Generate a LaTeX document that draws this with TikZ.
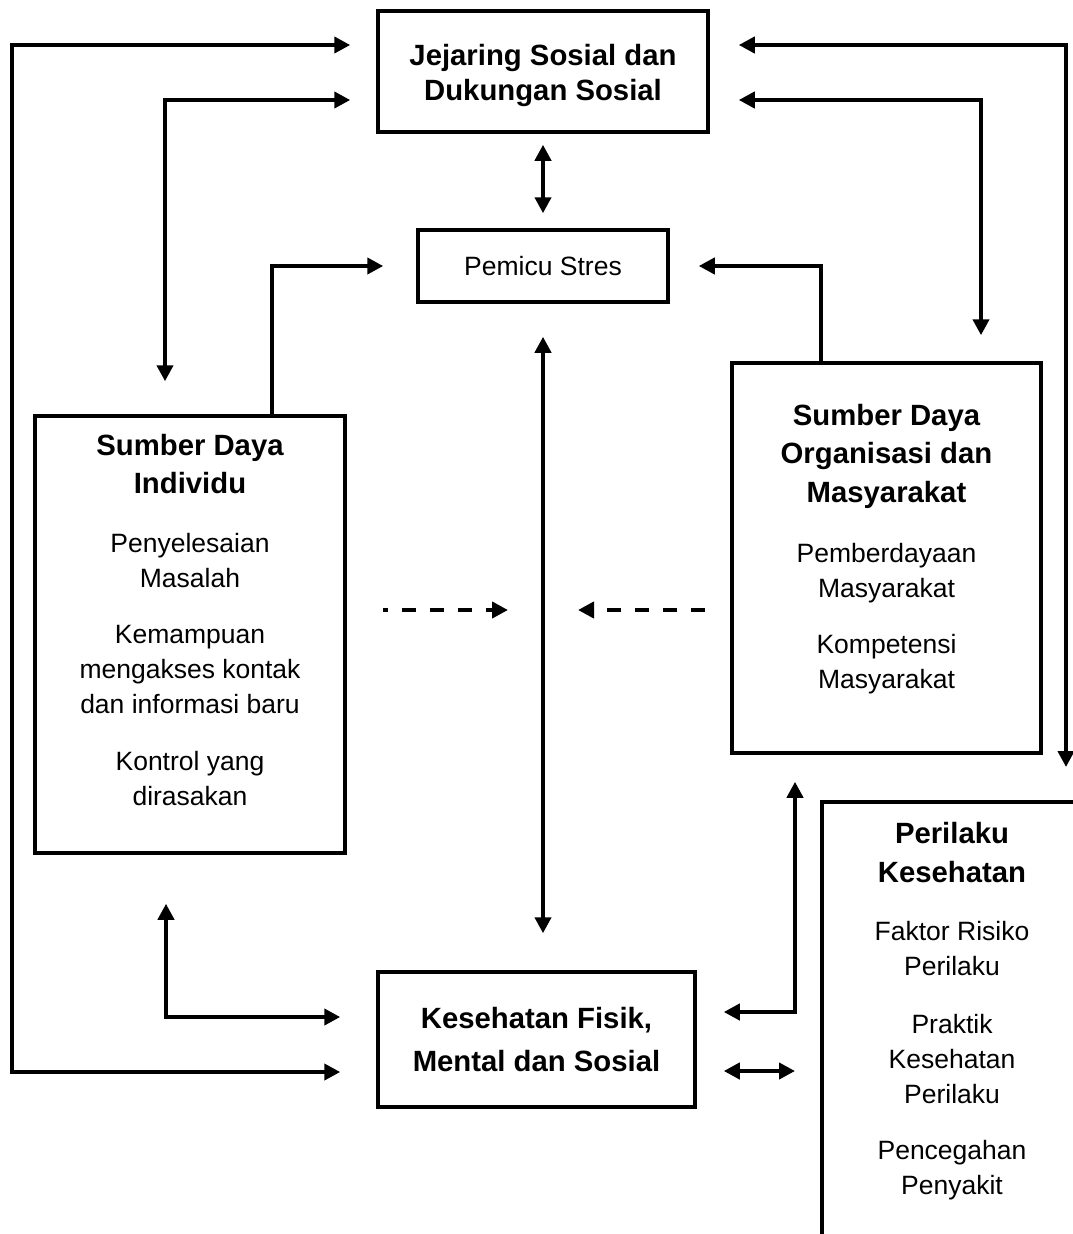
\documentclass[tikz,border=0pt]{standalone}
\usepackage{fontspec}
\setmainfont{Liberation Sans}
\usetikzlibrary{arrows.meta}

\begin{document}
\begin{tikzpicture}[x=1pt, y=-1pt,
  box/.style={draw, line width=3.5pt, inner sep=0pt, align=center},
  heading/.style={font={\bfseries\fontsize{29.3}{#1}\selectfont}, align=center, inner sep=0pt},
  body/.style={font={\fontsize{26.5}{35}\selectfont}, align=center, inner sep=0pt},
  link/.style={line width=4pt, {Triangle[length=16pt,width=16pt]}-{Triangle[length=16pt,width=16pt]}},
  oneway/.style={line width=4pt, -{Triangle[length=16pt,width=16pt]}},
  hint/.style={oneway, dash pattern=on 14pt off 14pt}]
\useasboundingbox (0,0) rectangle (1073,1234);

% boxes
\node[box, minimum width=330pt, minimum height=121pt] (jejaring) at (543,71.5) {};
\node[box, body, minimum width=250pt, minimum height=72pt] (pemicu) at (543,266) {Pemicu Stres};
\node[box, minimum width=310pt, minimum height=437pt] (individu) at (190,634.5) {};
\node[box, minimum width=309pt, minimum height=390pt] (organisasi) at (886.5,558) {};
\node[box, heading=43, minimum width=317pt, minimum height=135pt] (kesehatan) at (536.5,1039.5) {Kesehatan Fisik,\\Mental dan Sosial};
\coordinate (perilaku) at (822,802);
\draw[line width=3.5pt] (1080,802) -- (perilaku) -- (822,1240);

% box texts
\node[heading=35, anchor=north] (jejaringT) at (543,43.6) {Jejaring Sosial dan\\Dukungan Sosial};
\node[heading=38, anchor=north] (individuT) at (190,433.6) {Sumber Daya\\Individu};
\node[body, anchor=north] (individuB) at (190,532.7) {Penyelesaian\\Masalah\\[21pt]Kemampuan\\mengakses kontak\\dan informasi baru\\[22pt]Kontrol yang\\dirasakan};
\node[heading=38.5, anchor=north] (organisasiT) at (886.5,403.6) {Sumber Daya\\Organisasi dan\\Masyarakat};
\node[body, anchor=north] (organisasiB) at (886.5,542.7) {Pemberdayaan\\Masyarakat\\[21pt]Kompetensi\\Masyarakat};
\node[heading=39, anchor=north] (perilakuT) at (952,821.6) {Perilaku\\Kesehatan};
\node[body, anchor=north] (perilakuB) at (952,920.7) {Faktor Risiko\\Perilaku\\[23pt]Praktik\\Kesehatan\\Perilaku\\[21pt]Pencegahan\\Penyakit};

% connectors
\draw[link] ([xshift=-26pt,yshift=26.5pt]jejaring.west) -| (12,1072) -- ([xshift=-36pt,yshift=-32.5pt]kesehatan.west);
\draw[link] ([xshift=-26pt,yshift=-28.5pt]jejaring.west) -| ([xshift=-25pt,yshift=33pt]individu.north);
\draw[link, shorten <=11pt, shorten >=15pt] (jejaring.south) -- (pemicu.north);
\draw[oneway] ([xshift=82pt]individu.north) |- ([xshift=-33pt]pemicu.west);
\draw[oneway] ([xshift=-65.5pt]organisasi.north) |- ([xshift=29pt]pemicu.east);
\draw[link] ([xshift=29pt,yshift=26.5pt]jejaring.east) -| ([xshift=244pt,yshift=35pt]perilaku);
\draw[link] ([xshift=29pt,yshift=-28.5pt]jejaring.east) -| ([xshift=94.5pt,yshift=26pt]organisasi.north);
\draw[link, shorten <=33pt, shorten >=37pt] (pemicu.south) -- (pemicu.south |- kesehatan.north);

\coordinate (tengah) at (543,610);
\draw[hint, dash phase=9pt] ([xshift=36pt,yshift=24.5pt]individu.east) -- ([xshift=-35pt]tengah);
\draw[hint] ([xshift=-25pt,yshift=-52pt]organisasi.west) -- ([xshift=35pt]tengah);

\draw[link] ([xshift=-24pt,yshift=-49pt]individu.south) |- ([xshift=-36pt,yshift=22.5pt]kesehatan.west);
\draw[link] ([xshift=-91.5pt,yshift=-27pt]organisasi.south) |- ([xshift=27pt,yshift=27.5pt]kesehatan.east);
\draw[link, shorten <=27pt, shorten >=27pt] ([yshift=-31.5pt]kesehatan.east) -- ([yshift=-31.5pt]kesehatan.east -| perilaku);
\end{tikzpicture}
\end{document}
